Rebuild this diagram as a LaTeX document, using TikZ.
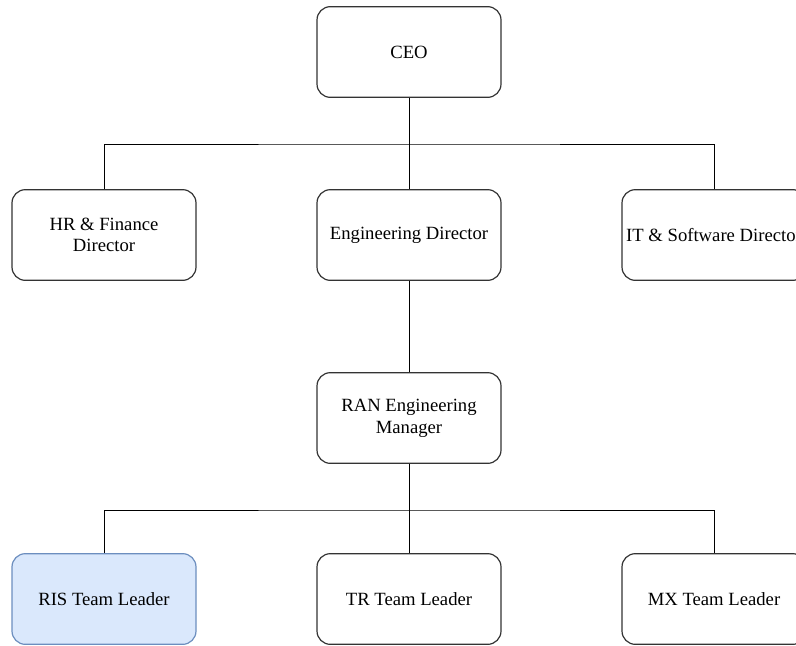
\documentclass[tikz,border=0pt]{standalone}
\usepackage{fontspec}
\setmainfont{Liberation Serif}
\definecolor{boxline}{HTML}{333333}
\definecolor{risfill}{HTML}{DAE8FC}
\definecolor{risline}{HTML}{6C8EBF}
\usetikzlibrary{positioning}

\begin{document}
\begin{tikzpicture}[x=0.75pt, y=-0.75pt,
  role/.style={draw=boxline, fill=white, rounded corners=10pt, line width=0.9pt,
               minimum width=138pt, minimum height=68pt, align=center,
               font=\fontsize{14}{16.3}\selectfont, inner sep=2pt},
  focus/.style={role, draw=risline, fill=risfill},
  link/.style={draw=black, line width=0.75pt},
]
\clip (0,0) rectangle (796,646);
\fill[white] (0,0) rectangle (796,646);

\node[role] (ceo) at (409,52) {CEO};

\node[role] (hr)  at (104,235) {HR \& Finance\\Director};
\node[role] (eng) at (409,235) {Engineering Director};
\node[role] (it)  at (714,235) {IT \& Software Director};

\node[role] (ran) at (409,418) {RAN Engineering\\Manager};

\node[focus] (ris) at (104,599) {RIS Team Leader};
\node[role] (tr)  at (409,599) {TR Team Leader};
\node[role] (mx)  at (714,599) {MX Team Leader};

\coordinate (bustop) at (409,144);
\coordinate (buslow) at (409,510);

\draw[link] (ceo) -- (eng);
\draw[link] (hr.north) |- (bustop) -| (it.north);
\draw[link] (eng) -- (ran);
\draw[link] (ran) -- (tr);
\draw[link] (ris.north) |- (buslow) -| (mx.north);
\end{tikzpicture}
\end{document}
